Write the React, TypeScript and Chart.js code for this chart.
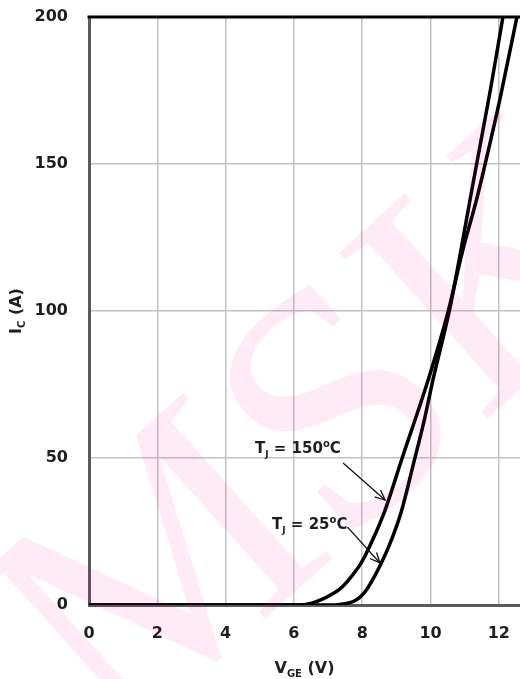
import React, { useEffect, useRef } from "react";
import { Chart, registerables } from "chart.js";

Chart.register(...registerables);

// Transfer characteristic: collector current vs. gate-emitter voltage
const xTickValues = [0, 2, 4, 6, 8, 10, 12];
const yTickValues = [0, 50, 100, 150, 200];
const X_MAX = 12.62;
const Y_MAX = 200;

// Tj = 25 °C
const vge25 = [0, 7.2, 7.5, 7.8, 8.05, 8.3, 8.55, 8.85, 9.15, 9.5, 9.8, 10.07, 10.55, 10.88, 11.16, 11.35, 11.75, 12.12];
const ic25 = [0, 0, 0.4, 1.5, 4, 8.5, 14, 22, 32, 48, 62, 76.5, 100, 120, 138, 150, 175, 200];

// Tj = 150 °C
const vge150 = [0, 6.2, 6.5, 6.8, 7.1, 7.35, 7.6, 7.97, 8.3, 8.67, 9.17, 9.93, 10.52, 10.93, 11.35, 11.6, 12.05, 12.53];
const ic150 = [0, 0, 0.5, 1.8, 3.6, 5.5, 8.5, 14.3, 22, 32.3, 50, 76.5, 100, 120, 138, 150, 173, 200];

// Curve callouts (text left edge / vertical centre, arrow start and tip) in axis units
const note150 = { temp: "150", x: 4.86, y: 53.7, from: [7.44, 48.3], to: [8.67, 35.7] };
const note25 = { temp: "25", x: 5.36, y: 27.6, from: [7.57, 26.5], to: [8.52, 14.3] };

const FONT = '"DejaVu Sans", sans-serif';
const TEXT = "#1e1e1e";

type Run = { t: string; size: number; dy: number };

function runsWidth(ctx: CanvasRenderingContext2D, runs: Run[]) {
  let w = 0;
  for (const r of runs) {
    ctx.font = `bold ${r.size}px ${FONT}`;
    w += ctx.measureText(r.t).width;
  }
  return w;
}

function drawRuns(ctx: CanvasRenderingContext2D, runs: Run[], x: number, baseline: number) {
  ctx.textAlign = "left";
  ctx.textBaseline = "alphabetic";
  for (const r of runs) {
    ctx.font = `bold ${r.size}px ${FONT}`;
    ctx.fillText(r.t, x, baseline + r.dy);
    x += ctx.measureText(r.t).width;
  }
}

function drawArrow(ctx: CanvasRenderingContext2D, x1: number, y1: number, x2: number, y2: number) {
  ctx.beginPath();
  ctx.moveTo(x1, y1);
  ctx.lineTo(x2, y2);
  ctx.stroke();
  const ang = Math.atan2(y2 - y1, x2 - x1);
  const len = 11;
  const spread = 0.42;
  ctx.beginPath();
  ctx.moveTo(x2 - len * Math.cos(ang - spread), y2 - len * Math.sin(ang - spread));
  ctx.lineTo(x2, y2);
  ctx.lineTo(x2 - len * Math.cos(ang + spread), y2 - len * Math.sin(ang + spread));
  ctx.stroke();
}

function tempRuns(temp: string): Run[] {
  return [
    { t: "T", size: 15, dy: 0 },
    { t: "J", size: 9, dy: 4 },
    { t: " = " + temp, size: 15, dy: 0 },
    { t: "o", size: 10, dy: -6 },
    { t: "C", size: 15, dy: 0 },
  ];
}

const decorations = {
  id: "decorations",
  afterDraw(chart: Chart) {
    const { ctx, chartArea: a } = chart;
    const xs = chart.scales.x;
    const ys = chart.scales.y;
    ctx.save();

    // heavy top frame
    ctx.strokeStyle = "#000";
    ctx.lineWidth = 3;
    ctx.beginPath();
    ctx.moveTo(a.left - 1.5, a.top);
    ctx.lineTo(a.right, a.top);
    ctx.stroke();

    ctx.fillStyle = TEXT;
    ctx.strokeStyle = "#111";
    ctx.lineWidth = 1.3;

    // callouts
    for (const n of [note150, note25]) {
      const runs = tempRuns(n.temp);
      drawRuns(ctx, runs, xs.getPixelForValue(n.x), ys.getPixelForValue(n.y) + 5.5);
      drawArrow(
        ctx,
        xs.getPixelForValue(n.from[0]),
        ys.getPixelForValue(n.from[1]),
        xs.getPixelForValue(n.to[0]),
        ys.getPixelForValue(n.to[1])
      );
    }

    // x-axis title: V_GE (V)
    const xRuns: Run[] = [
      { t: "V", size: 16, dy: 0 },
      { t: "GE", size: 10, dy: 4 },
      { t: " (V)", size: 16, dy: 0 },
    ];
    const xw = runsWidth(ctx, xRuns);
    drawRuns(ctx, xRuns, (a.left + a.right) / 2 - xw / 2, 673);

    // y-axis title: I_C (A), rotated
    const yRuns: Run[] = [
      { t: "I", size: 16, dy: 0 },
      { t: "C", size: 10, dy: 4 },
      { t: " (A)", size: 16, dy: 0 },
    ];
    const yw = runsWidth(ctx, yRuns);
    ctx.save();
    ctx.translate(21, (a.top + a.bottom) / 2);
    ctx.rotate(-Math.PI / 2);
    drawRuns(ctx, yRuns, -yw / 2, 0);
    ctx.restore();

    // faint diagonal watermark lettering
    ctx.save();
    ctx.translate(335, 405);
    ctx.rotate((-42 * Math.PI) / 180);
    ctx.font = `340px "Liberation Serif", serif`;
    ctx.fillStyle = "rgba(255, 0, 130, 0.08)";
    ctx.textAlign = "left";
    ctx.textBaseline = "alphabetic";
    const wS = ctx.measureText("S").width;
    const wM = ctx.measureText("M").width;
    ctx.fillText("S", -wS / 2, 112);
    ctx.fillText("M", -wS / 2 - wM, 112);
    ctx.fillText("K", wS / 2, 112);
    ctx.restore();

    ctx.restore();
  },
};

export default function App() {
  const canvasRef = useRef<HTMLCanvasElement | null>(null);

  useEffect(() => {
    const canvas = canvasRef.current;
    if (!canvas) return;

    const tickFont = { family: FONT, size: 16, weight: "bold" as const };

    const chart = new Chart(canvas, {
      type: "line",
      data: {
        datasets: [
          {
            label: "Tj = 25°C",
            data: vge25.map((v, i) => ({ x: v, y: ic25[i] })),
            borderColor: "#000",
            borderWidth: 3.5,
            pointRadius: 0,
            cubicInterpolationMode: "monotone",
            fill: false,
          },
          {
            label: "Tj = 150°C",
            data: vge150.map((v, i) => ({ x: v, y: ic150[i] })),
            borderColor: "#000",
            borderWidth: 3.5,
            pointRadius: 0,
            cubicInterpolationMode: "monotone",
            fill: false,
          },
        ],
      },
      options: {
        animation: false,
        responsive: false,
        maintainAspectRatio: false,
        layout: { padding: { top: 17, right: 0, bottom: 0, left: 0 } },
        plugins: { legend: { display: false }, tooltip: { enabled: false } },
        scales: {
          x: {
            type: "linear",
            min: 0,
            max: X_MAX,
            afterFit: (s: any) => {
              s.height = 74;
            },
            afterBuildTicks: (s: any) => {
              s.ticks = xTickValues.map((v) => ({ value: v }));
            },
            ticks: { font: tickFont, color: TEXT, padding: 0, maxRotation: 0, includeBounds: false },
            grid: { color: "#c2c2c2", lineWidth: 1.5, tickLength: 19, tickColor: "rgba(0,0,0,0)" },
            border: { color: "#5a5a5a", width: 3 },
          },
          y: {
            type: "linear",
            min: 0,
            max: Y_MAX,
            afterFit: (s: any) => {
              s.width = 89;
            },
            afterBuildTicks: (s: any) => {
              s.ticks = yTickValues.map((v) => ({ value: v }));
            },
            ticks: { font: tickFont, color: TEXT, padding: 0 },
            grid: { color: "#c2c2c2", lineWidth: 1.5, tickLength: 21, tickColor: "rgba(0,0,0,0)" },
            border: { color: "#5a5a5a", width: 3 },
          },
        },
      },
      plugins: [decorations],
    });

    return () => chart.destroy();
  }, []);

  return (
    <div style={{ position: "absolute", left: 0, top: 0, width: 520, height: 679, background: "#fff" }}>
      <canvas ref={canvasRef} width={520} height={679} style={{ display: "block" }} />
    </div>
  );
}
